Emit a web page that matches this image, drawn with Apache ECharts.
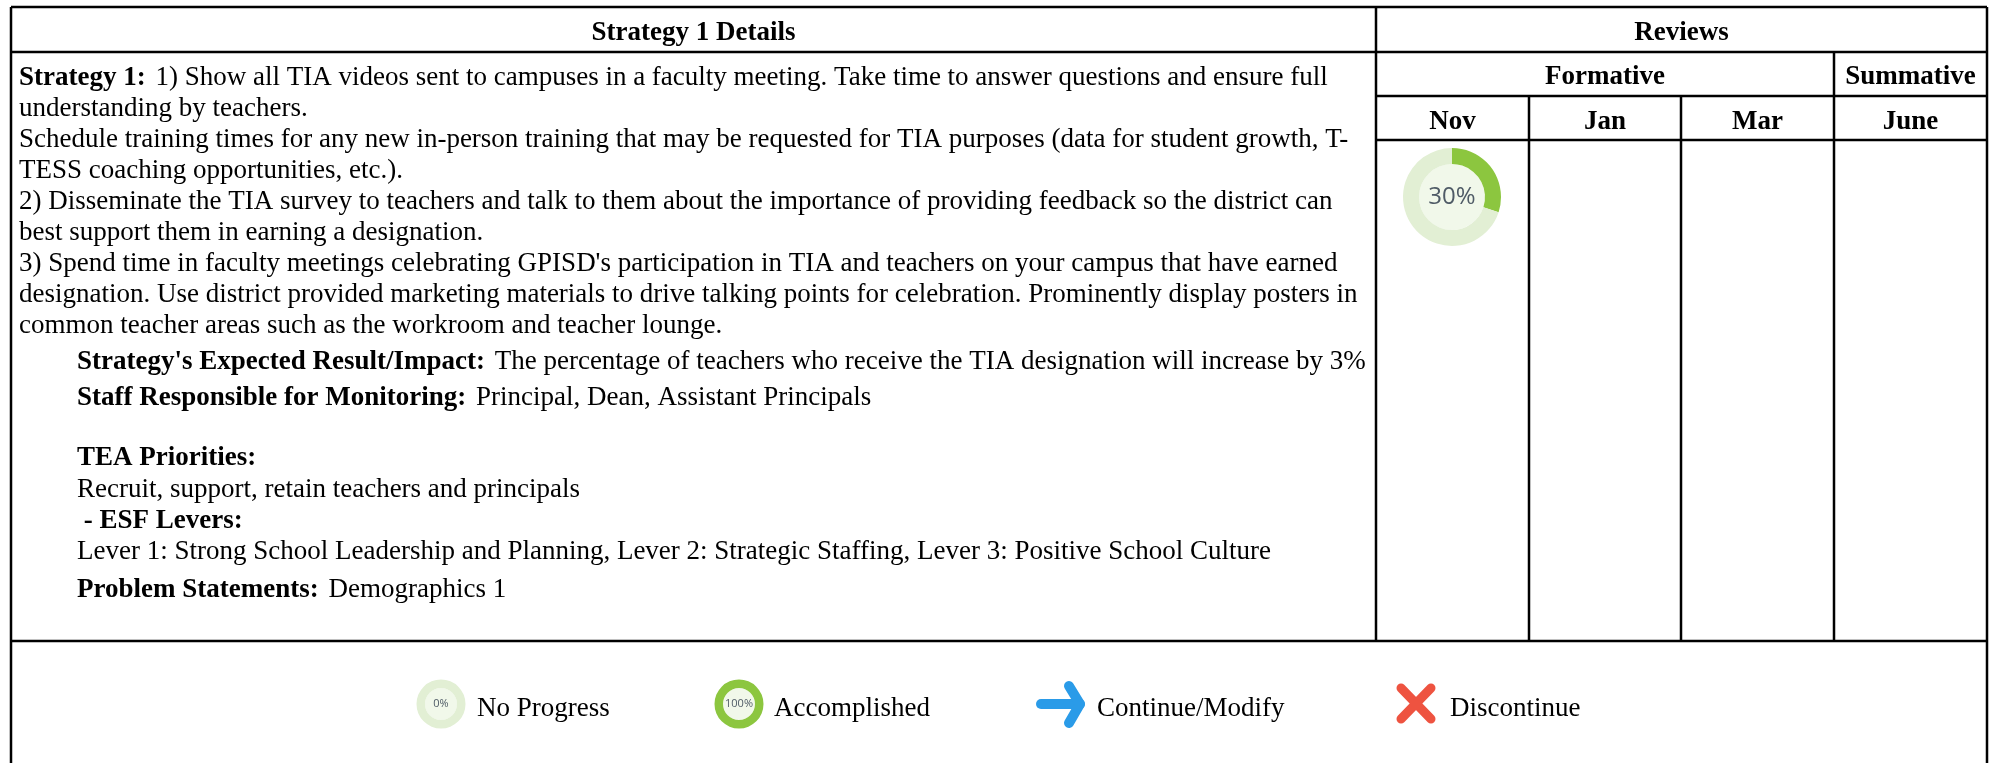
<!DOCTYPE html>
<html><head><meta charset="utf-8">
<style>html,body{margin:0;padding:0;background:#fff}#c{width:1997px;height:763px}</style>
<script src="https://cdn.jsdelivr.net/npm/echarts@6/dist/echarts.min.js"></script>
</head><body><div id="c"></div>
<script>
const headerLeft = "Strategy 1 Details";
const headerReviews = "Reviews";
const groupLabels = ["Formative", "Summative"];
const monthLabels = ["Nov", "Jan", "Mar", "June"];
const bodyLines = [
  ["Strategy 1:", " 1) Show all TIA videos sent to campuses in a faculty meeting. Take time to answer questions and ensure full"],
  ["", "understanding by teachers."],
  ["", "Schedule training times for any new in-person training that may be requested for TIA purposes (data for student growth, T-"],
  ["", "TESS coaching opportunities, etc.)."],
  ["", "2) Disseminate the TIA survey to teachers and talk to them about the importance of providing feedback so the district can"],
  ["", "best support them in earning a designation."],
  ["", "3) Spend time in faculty meetings celebrating GPISD's participation in TIA and teachers on your campus that have earned"],
  ["", "designation. Use district provided marketing materials to drive talking points for celebration. Prominently display posters in"],
  ["", "common teacher areas such as the workroom and teacher lounge."]
];
const detailLines = [
  ["Strategy's Expected Result/Impact:", " The percentage of teachers who receive the TIA designation will increase by 3%"],
  ["Staff Responsible for Monitoring:", " Principal, Dean, Assistant Principals"],
  ["TEA Priorities:", ""],
  ["", "Recruit, support, retain teachers and principals"],
  [" - ESF Levers:", ""],
  ["", "Lever 1: Strong School Leadership and Planning, Lever 2: Strategic Staffing, Lever 3: Positive School Culture"],
  ["Problem Statements:", " Demographics 1"]
];
const progressLabel = "30%";
const progressValues = [30, 70];
const legendNames = ["No Progress", "Accomplished", "Continue/Modify", "Discontinue"];
const legendZero = [0, 100];
const legendFull = [100, 0];
const legendZeroLabel = "0%";
const legendFullLabel = "100%";

const F = '"Liberation Serif","Times New Roman",serif';
const FS = 27;
const bodyY = [78,109,140,171,202,233,264,295,326];
const detailY = [362,398,458,490,521,552,590];

function line(x1,y1,x2,y2){return {type:'line',shape:{x1,y1,x2,y2},style:{stroke:'#000',lineWidth:2.5},silent:true};}
function rich(x,y,pair){
  const parts=[];
  if(pair[0]) parts.push('{b|'+pair[0]+'}');
  if(pair[1]) parts.push((pair[0]?'{s|'+pair[1]+'}':'{r|'+pair[1]+'}'));
  return {type:'text',x,y,style:{text:parts.join(''),align:'left',verticalAlign:'middle',
    rich:{b:{font:'bold '+FS+'px '+F,fill:'#000'},r:{font:FS+'px '+F,fill:'#000'},
      s:{font:FS+'px '+F,fill:'#000',padding:[0,0,0,3]}}},silent:true};
}
function label(x,y,text,bold,align,size){
  return {type:'text',x,y,style:{text,align:align||'center',verticalAlign:'middle',
    font:(bold?'bold ':'')+(size||FS)+'px '+F,fill:'#000'},silent:true};
}
const L=11,R=1987,T=7,M=1376,B=641;
const cols=[1376,1529,1681,1834,1987];
const graphics=[
  line(L,T,R,T),line(L,52,R,52),line(M,96,R,96),line(M,140,R,140),line(L,B,R,B),
  line(L,T,L,763),line(R,T,R,763),
  line(M,T,M,B),line(cols[3],52,cols[3],B),line(cols[1],96,cols[1],B),line(cols[2],96,cols[2],B),
  label((L+M)/2,33,headerLeft,true),
  label((M+R)/2,33,headerReviews,true),
  label((M+cols[3])/2,77,groupLabels[0],true),
  label((cols[3]+R)/2,77,groupLabels[1],true),
];
monthLabels.forEach((m,i)=>graphics.push(label((cols[i]+cols[i+1])/2,122,m,true)));
bodyLines.forEach((p,i)=>graphics.push(rich(19,bodyY[i],p)));
detailLines.forEach((p,i)=>graphics.push(rich(77,detailY[i],p)));
[[477,709],[774,709],[1097,709],[1450,709]].forEach((p,i)=>graphics.push(label(p[0],p[1],legendNames[i],false,'left',27)));
// arrow
graphics.push({type:'polyline',shape:{points:[[1041,704],[1080,704]]},style:{stroke:'#2a9be8',lineWidth:10,lineCap:'round',fill:null},silent:true});
graphics.push({type:'polyline',shape:{points:[[1069,686],[1080,704],[1069,723]]},style:{stroke:'#2a9be8',lineWidth:10,lineCap:'round',lineJoin:'round',fill:null},silent:true});
// cross
graphics.push({type:'line',shape:{x1:1401,y1:688,x2:1431,y2:719},style:{stroke:'#ee5340',lineWidth:9,lineCap:'round'},silent:true});
graphics.push({type:'line',shape:{x1:1431,y1:688,x2:1401,y2:719},style:{stroke:'#ee5340',lineWidth:9,lineCap:'round'},silent:true});

function donut(cx,cy,ro,ri,values,text,size){
  return [
    {type:'pie',silent:true,animation:false,center:[cx,cy],radius:[0,ri],label:{show:false},labelLine:{show:false},
     data:[{value:1,itemStyle:{color:'#f1f8ea'}}]},
    {type:'pie',silent:true,animation:false,center:[cx,cy],radius:[ri,ro],startAngle:90,clockwise:true,minAngle:0,
     stillShowZeroSum:true,labelLine:{show:false},itemStyle:{borderWidth:0},
     data:[
       {value:values[0],itemStyle:{color:'#8cc63f'},label:{show:true,position:'center',formatter:text,
         fontFamily:'"Open Sans","Noto Sans",sans-serif',fontSize:size,color:'#4f5b66'}},
       {value:values[1],itemStyle:{color:'#e2efd4'},label:{show:false}}
     ]}
  ];
}
const series=[].concat(
  donut(1452,197,49,33,progressValues,progressLabel,24),
  donut(441,704,24.5,16,legendZero,legendZeroLabel,11),
  donut(739,704,24.5,16,legendFull,legendFullLabel,11)
);
const chart=echarts.init(document.getElementById('c'),null,{renderer:'canvas'});
chart.setOption({animation:false,backgroundColor:'#fff',tooltip:{show:false},series,graphic:graphics});
</script></body></html>
